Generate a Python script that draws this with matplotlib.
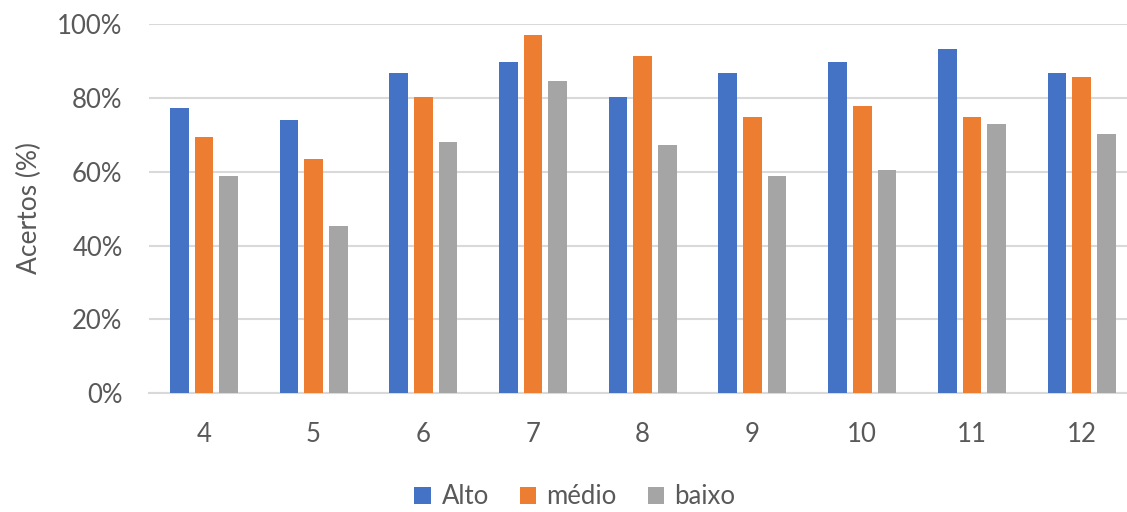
import matplotlib.pyplot as plt
import numpy as np

plt.rcParams['font.family'] = ['Lato', 'DejaVu Sans']

# anos / séries e percentuais de acerto por nível
anos = ['4', '5', '6', '7', '8', '9', '10', '11', '12']
alto = [77.2, 73.9, 86.8, 89.7, 80.1, 86.8, 89.7, 93.1, 86.8]
medio = [69.3, 63.5, 80.1, 96.9, 91.4, 74.8, 77.7, 74.8, 85.6]
baixo = [58.9, 45.4, 68.0, 84.7, 67.2, 58.9, 60.4, 73.0, 70.2]

series = [('Alto', alto, '#4472C4'),
          ('médio', medio, '#ED7D31'),
          ('baixo', baixo, '#A5A5A5')]

cinza = '#595959'

fig = plt.figure(figsize=(11.27, 5.12), dpi=100)
# eixo um pouco mais largo que a figura (cortado à direita)
ax = fig.add_axes([149 / 1127, 1 - 393.3 / 512, 987.5 / 1127, 369.3 / 512])

x = np.arange(len(anos))
w = 0.17
step = 0.225
for i, (nome, vals, cor) in enumerate(series):
    ax.bar(x + (i - 1) * step, np.array(vals) / 100, width=w, color=cor,
           label=nome, zorder=3)

ax.set_xlim(-0.5, len(anos) - 0.5)
ax.set_ylim(0, 1)
ax.set_yticks(np.arange(0, 1.01, 0.2))
ax.set_yticklabels([f'{int(round(v * 100))}%' for v in np.arange(0, 1.01, 0.2)])
ax.set_xticks(x)
ax.set_xticklabels(anos)

ax.grid(axis='y', color='#D9D9D9', linewidth=1.5, zorder=0)
ax.set_axisbelow(True)
for s in ['top', 'right', 'left']:
    ax.spines[s].set_visible(False)
ax.spines['bottom'].set_color('#D9D9D9')
ax.spines['bottom'].set_linewidth(1.5)

ax.tick_params(axis='both', length=0, labelsize=18.5, colors=cinza)
ax.tick_params(axis='y', pad=19)
ax.tick_params(axis='x', pad=21)

ax.set_ylabel('Acertos (%)', fontsize=19, color=cinza)
ax.yaxis.set_label_coords(42 / 1127, 1 - 208.5 / 512, transform=fig.transFigure)

fig.legend(loc='center', bbox_to_anchor=(575 / 1127, 1 - 497 / 512),
           ncol=3, frameon=False, fontsize=18.5, labelcolor=cinza,
           handlelength=0.65, handleheight=0.65, handletextpad=0.4,
           columnspacing=1.2)

fig.savefig('out.png', dpi=100)
